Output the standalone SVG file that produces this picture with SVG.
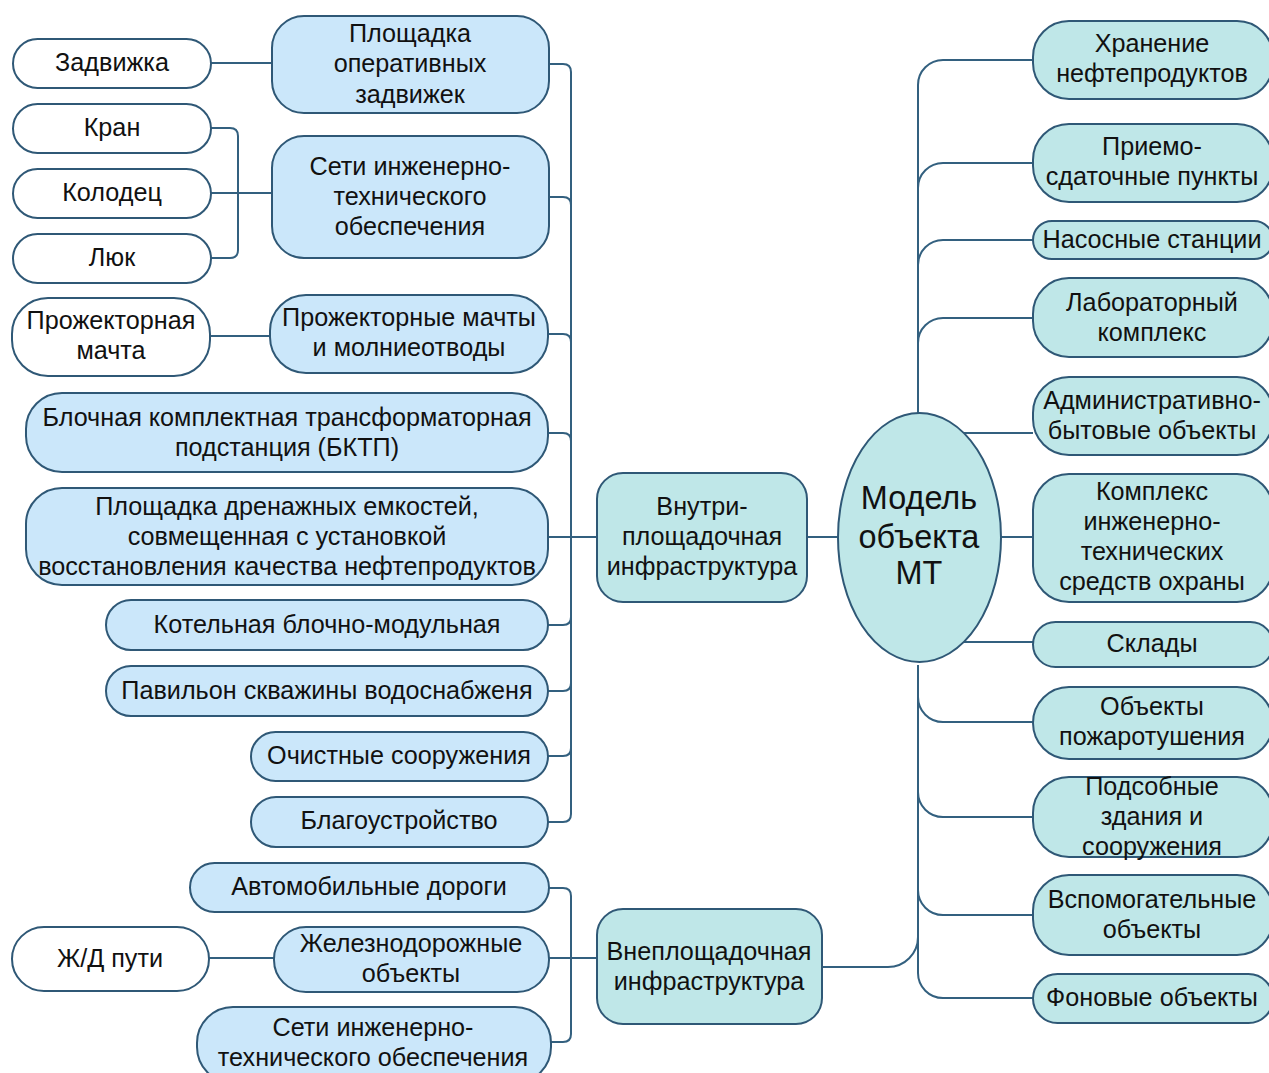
<svg xmlns="http://www.w3.org/2000/svg" width="1269" height="1073" viewBox="0 0 1269 1073">
  <style>
    .leaf { fill: #ffffff; stroke: #2f5876; stroke-width: 2; }
    .sub { fill: #cbe7fa; stroke: #2f5876; stroke-width: 2; }
    .cat { fill: #bfe7e8; stroke: #2f5876; stroke-width: 2; }
    .wire { fill: none; stroke: #33607f; stroke-width: 2; }
    text { font-family: "Liberation Sans", Arial, sans-serif; font-size: 25.2px; fill: #111111; text-anchor: middle; }
    .big { font-size: 32.4px; }
  </style>

  <!-- connectors -->
  <g id="connectors" class="wire">
    <!-- white leaves to their parents -->
    <path d="M211,63 H272"/>
    <path d="M211,128 H230 Q238,128 238,136 V250 Q238,258 230,258 H211"/>
    <path d="M211,193 H272"/>
    <path d="M210,336 H270"/>
    <path d="M209,958 H274"/>
    <!-- on-site trunk -->
    <path d="M571,72 V814"/>
    <path d="M549,64 H563 Q571,64 571,72"/>
    <path d="M549,197 H563 Q571,197 571,205"/>
    <path d="M548,334 H563 Q571,334 571,342"/>
    <path d="M548,433 H563 Q571,433 571,441"/>
    <path d="M548,537 H597"/>
    <path d="M548,625 H563 Q571,625 571,617"/>
    <path d="M548,691 H563 Q571,691 571,683"/>
    <path d="M548,756 H563 Q571,756 571,748"/>
    <path d="M548,822 H563 Q571,822 571,814"/>
    <!-- off-site trunk -->
    <path d="M571,896 V1034"/>
    <path d="M549,888 H563 Q571,888 571,896"/>
    <path d="M551,1042 H563 Q571,1042 571,1034"/>
    <path d="M549,958 H597"/>
    <!-- hubs to the model -->
    <path d="M807,537 H838"/>
    <path d="M822,967 H888 A30,30 0 0 0 918,937"/>
    <!-- upper right trunk -->
    <path d="M918,413 V85"/>
    <path d="M1033,60 H943 A25,25 0 0 0 918,85"/>
    <path d="M1033,163 H943 A25,25 0 0 0 918,188"/>
    <path d="M1033,240 H943 A25,25 0 0 0 918,265"/>
    <path d="M1033,318 H943 A25,25 0 0 0 918,343"/>
    <!-- direct from the ellipse -->
    <path d="M964,433 H1033"/>
    <path d="M1001,537 H1033"/>
    <path d="M964,642 H1033"/>
    <!-- lower right trunk -->
    <path d="M918,665 V973"/>
    <path d="M918,697 A25,25 0 0 0 943,722 H1033"/>
    <path d="M918,792 A25,25 0 0 0 943,817 H1033"/>
    <path d="M918,890 A25,25 0 0 0 943,915 H1033"/>
    <path d="M918,973 A25,25 0 0 0 943,998 H1033"/>
  </g>

  <!-- leaf items -->
  <g id="n-zadvizhka"><rect class="leaf" x="13" y="39" width="198" height="49" rx="24.5"/><text x="112" y="71">Задвижка</text></g>
  <g id="n-kran"><rect class="leaf" x="13" y="104" width="198" height="49" rx="24.5"/><text x="112" y="136">Кран</text></g>
  <g id="n-kolodets"><rect class="leaf" x="13" y="169" width="198" height="49" rx="24.5"/><text x="112" y="201">Колодец</text></g>
  <g id="n-lyuk"><rect class="leaf" x="13" y="234" width="198" height="49" rx="24.5"/><text x="112" y="266">Люк</text></g>
  <g id="n-prozh-machta"><rect class="leaf" x="12" y="298" width="198" height="78" rx="36"/><text x="111" y="329">Прожекторная</text><text x="111" y="359">мачта</text></g>
  <g id="n-zhd"><rect class="leaf" x="12" y="927" width="197" height="64" rx="32"/><text x="110" y="967">Ж/Д пути</text></g>

  <!-- on-site infrastructure items -->
  <g id="n-ploshchadka-zadv"><rect class="sub" x="272" y="16" width="277" height="97" rx="32"/><text x="410" y="42">Площадка</text><text x="410" y="72">оперативных</text><text x="410" y="103">задвижек</text></g>
  <g id="n-seti"><rect class="sub" x="272" y="136" width="277" height="122" rx="32"/><text x="410" y="175">Сети инженерно-</text><text x="410" y="205">технического</text><text x="410" y="235">обеспечения</text></g>
  <g id="n-prozh-machty"><rect class="sub" x="270" y="295" width="278" height="78" rx="36"/><text x="409" y="326">Прожекторные мачты</text><text x="409" y="356">и молниеотводы</text></g>
  <g id="n-bktp"><rect class="sub" x="26" y="393" width="522" height="79" rx="36"/><text x="287" y="426">Блочная комплектная трансформаторная</text><text x="287" y="456">подстанция (БКТП)</text></g>
  <g id="n-drenazh"><rect class="sub" x="26" y="488" width="522" height="97" rx="36"/><text x="287" y="515">Площадка дренажных емкостей,</text><text x="287" y="545">совмещенная с установкой</text><text x="287" y="575">восстановления качества нефтепродуктов</text></g>
  <g id="n-kotelnaya"><rect class="sub" x="106" y="600" width="442" height="50" rx="25"/><text x="327" y="633">Котельная блочно-модульная</text></g>
  <g id="n-pavilon"><rect class="sub" x="106" y="666" width="442" height="50" rx="25"/><text x="327" y="699">Павильон скважины водоснабженя</text></g>
  <g id="n-ochistnye"><rect class="sub" x="251" y="732" width="297" height="49" rx="24.5"/><text x="399" y="764">Очистные сооружения</text></g>
  <g id="n-blagoustr"><rect class="sub" x="251" y="797" width="297" height="50" rx="25"/><text x="399" y="829">Благоустройство</text></g>

  <!-- off-site infrastructure items -->
  <g id="n-avto"><rect class="sub" x="190" y="863" width="359" height="49" rx="24.5"/><text x="369" y="895">Автомобильные дороги</text></g>
  <g id="n-zhd-obj"><rect class="sub" x="274" y="927" width="275" height="65" rx="32"/><text x="411" y="952">Железнодорожные</text><text x="411" y="982">объекты</text></g>
  <g id="n-seti-vne"><rect class="sub" x="197" y="1007" width="354" height="76" rx="36"/><text x="373" y="1036">Сети инженерно-</text><text x="373" y="1066">технического обеспечения</text></g>

  <!-- hubs -->
  <g id="n-vnutri"><rect class="cat" x="597" y="473" width="210" height="129" rx="26"/><text x="702" y="515">Внутри-</text><text x="702" y="545">площадочная</text><text x="702" y="575">инфраструктура</text></g>
  <g id="n-vne"><rect class="cat" x="597" y="909" width="225" height="115" rx="26"/><text x="709" y="960">Внеплощадочная</text><text x="709" y="990">инфраструктура</text></g>

  <!-- central model -->
  <g id="n-model"><ellipse class="cat" cx="919.5" cy="537.5" rx="81.5" ry="124.5"/><text class="big" x="919" y="509">Модель</text><text class="big" x="919" y="548">объекта</text><text class="big" x="919" y="584">МТ</text></g>

  <!-- object categories -->
  <g id="n-hranenie"><rect class="cat" x="1033" y="21" width="240" height="78" rx="36"/><text x="1152" y="52">Хранение</text><text x="1152" y="82">нефтепродуктов</text></g>
  <g id="n-priemo"><rect class="cat" x="1033" y="124" width="240" height="78" rx="36"/><text x="1152" y="155">Приемо-</text><text x="1152" y="185">сдаточные пункты</text></g>
  <g id="n-nasosnye"><rect class="cat" x="1033" y="221" width="240" height="38" rx="19"/><text x="1152" y="248">Насосные станции</text></g>
  <g id="n-labor"><rect class="cat" x="1033" y="278" width="240" height="79" rx="36"/><text x="1152" y="311">Лабораторный</text><text x="1152" y="341">комплекс</text></g>
  <g id="n-admin"><rect class="cat" x="1033" y="377" width="240" height="78" rx="36"/><text x="1152" y="409">Административно-</text><text x="1152" y="439">бытовые объекты</text></g>
  <g id="n-ohrana"><rect class="cat" x="1033" y="474" width="240" height="128" rx="36"/><text x="1152" y="500">Комплекс</text><text x="1152" y="530">инженерно-</text><text x="1152" y="560">технических</text><text x="1152" y="590">средств охраны</text></g>
  <g id="n-sklady"><rect class="cat" x="1033" y="622" width="240" height="45" rx="22.5"/><text x="1152" y="652">Склады</text></g>
  <g id="n-pozhar"><rect class="cat" x="1033" y="687" width="240" height="72" rx="36"/><text x="1152" y="715">Объекты</text><text x="1152" y="745">пожаротушения</text></g>
  <g id="n-podsob"><rect class="cat" x="1033" y="777" width="240" height="80" rx="36"/><text x="1152" y="795">Подсобные</text><text x="1152" y="825">здания и</text><text x="1152" y="855">сооружения</text></g>
  <g id="n-vspomog"><rect class="cat" x="1033" y="875" width="240" height="80" rx="36"/><text x="1152" y="908">Вспомогательные</text><text x="1152" y="938">объекты</text></g>
  <g id="n-fon"><rect class="cat" x="1033" y="974" width="240" height="49" rx="24.5"/><text x="1152" y="1006">Фоновые объекты</text></g>
</svg>
